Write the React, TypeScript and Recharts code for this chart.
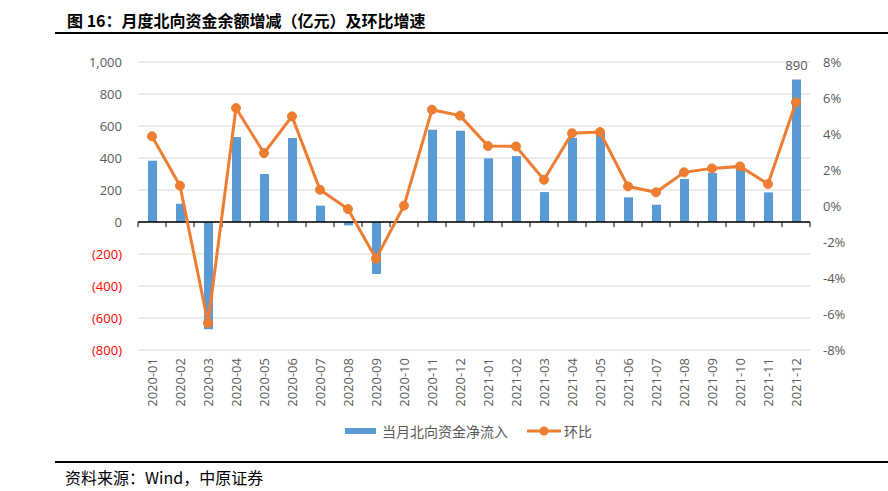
import React from 'react';
import { ComposedChart, Bar, Line, XAxis, YAxis, CartesianGrid, ReferenceLine, LabelList } from 'recharts';

const months = [
  '2020-01', '2020-02', '2020-03', '2020-04', '2020-05', '2020-06',
  '2020-07', '2020-08', '2020-09', '2020-10', '2020-11', '2020-12',
  '2021-01', '2021-02', '2021-03', '2021-04', '2021-05', '2021-06',
  '2021-07', '2021-08', '2021-09', '2021-10', '2021-11', '2021-12',
];
const inflow = [383, 114, -670, 531, 300, 525, 102, -21, -325, 0, 577, 570, 398, 412, 187, 525, 556, 154, 108, 269, 306, 335, 185, 890];
const momPct = [3.87, 1.13, -6.5, 5.44, 2.94, 4.98, 0.9, -0.17, -2.93, 0.02, 5.35, 5.02, 3.33, 3.31, 1.46, 4.04, 4.11, 1.09, 0.76, 1.87, 2.09, 2.2, 1.22, 5.76];
const leftTicks = [-800, -600, -400, -200, 0, 200, 400, 600, 800, 1000];
const rightTicks = [-8, -6, -4, -2, 0, 2, 4, 6, 8];
const barName = '当月北向资金净流入';
const lineName = '环比';
const title = '图 16：月度北向资金余额增减（亿元）及环比增速';
const source = '资料来源：Wind，中原证券';
const labelValue = 890;

const data = months.map((m, i) => ({ month: m, inflow: inflow[i], mom: momPct[i] }));

const BLUE = '#5B9BD5';
const ORANGE = '#ED7D31';
const GRAY = '#595959';
const FONT = '"Open Sans", "Noto Sans", sans-serif';
const CJK = '"Noto Sans CJK SC", "Noto Sans", sans-serif';

const LeftTick = (props: any) => {
  const { x, y, payload } = props;
  const v = payload.value as number;
  const neg = v < 0;
  const label = neg ? `(${Math.abs(v)})` : v.toLocaleString('en-US');
  return (
    <text x={x} y={y} dy="0.35em" textAnchor="end" fill={neg ? '#FF0000' : GRAY} fontSize={13} fontFamily={FONT}>
      {label}
    </text>
  );
};

const RightTick = (props: any) => {
  const { x, y, payload } = props;
  return (
    <text x={x} y={y} dy="0.35em" textAnchor="start" fill={GRAY} fontSize={13} fontFamily={FONT}>
      {`${payload.value}%`}
    </text>
  );
};

const XTick = (props: any) => {
  const { x, y, payload } = props;
  return (
    <g transform={`translate(${x},${y})`}>
      <text transform="rotate(-90)" x={0} y={0} dy="0.35em" textAnchor="end" fill={GRAY} fontSize={13} fontFamily={FONT}>
        {payload.value}
      </text>
    </g>
  );
};

const ZeroAxis = (props: any) => {
  const { x1, y1, x2, y2 } = props;
  const n = months.length;
  const step = (x2 - x1) / n;
  const ticks = [];
  for (let i = 0; i <= n; i++) {
    const xx = x1 + i * step;
    ticks.push(<line key={i} x1={xx} x2={xx} y1={y1} y2={y1 + 5} stroke="#000" strokeWidth={1} />);
  }
  return (
    <g>
      <line x1={x1} y1={y1} x2={x2} y2={y2} stroke="#000" strokeWidth={1.3} />
      {ticks}
    </g>
  );
};

const renderTopLabel = (props: any) => {
  const { x, y, width, value } = props;
  if (value !== labelValue) return null;
  return (
    <text x={x + width / 2} y={y - 10} textAnchor="middle" fill={GRAY} fontSize={13} fontFamily={FONT}>
      {value}
    </text>
  );
};

export default function App() {
  return (
    <div style={{ position: 'fixed', left: 0, top: 0, width: 888, height: 491, background: '#fff', overflow: 'hidden' }}>
      <div style={{ position: 'absolute', left: 67, top: 8, fontFamily: CJK, fontWeight: 700, fontSize: 16, color: '#000', whiteSpace: 'nowrap', lineHeight: '24px' }}>
        {title}
      </div>
      <div style={{ position: 'absolute', left: 55, top: 32, width: 833, height: 2, background: '#000' }} />
      <div style={{ position: 'absolute', left: 0, top: 0 }}>
        <ComposedChart width={888} height={491} data={data} margin={{ top: 62, right: 18, left: 78, bottom: 81 }}>
          <CartesianGrid yAxisId="left" vertical={false} stroke="#D9D9D9" strokeWidth={1} />
          <XAxis dataKey="month" axisLine={false} tickLine={false} interval={0} height={60} tick={<XTick />} />
          <YAxis yAxisId="left" domain={[-800, 1000]} ticks={leftTicks} axisLine={false} tickLine={false} width={60} tickMargin={10} tick={<LeftTick />} />
          <YAxis yAxisId="right" orientation="right" domain={[-8, 8]} ticks={rightTicks} axisLine={false} tickLine={false} width={60} tickMargin={7} tick={<RightTick />} />
          <Bar yAxisId="left" dataKey="inflow" name={barName} fill={BLUE} barSize={9} isAnimationActive={false}>
            <LabelList dataKey="inflow" content={renderTopLabel} />
          </Bar>
          <ReferenceLine yAxisId="left" y={0} shape={<ZeroAxis />} />
          <Line yAxisId="right" dataKey="mom" name={lineName} stroke={ORANGE} strokeWidth={3} dot={{ r: 4.5, fill: ORANGE, stroke: ORANGE, strokeWidth: 1 }} activeDot={false} isAnimationActive={false} />
        </ComposedChart>
      </div>
      <div style={{ position: 'absolute', left: 345, top: 420, display: 'flex', alignItems: 'center', fontFamily: CJK, fontSize: 14, color: GRAY, whiteSpace: 'nowrap', height: 22 }}>
        <svg width={32} height={8} style={{ marginRight: 5 }}>
          <rect x={0} y={1} width={31} height={6} fill={BLUE} />
        </svg>
        <span>{barName}</span>
        <svg width={34} height={12} style={{ marginLeft: 19, marginRight: 3 }}>
          <line x1={0} y1={6} x2={34} y2={6} stroke={ORANGE} strokeWidth={3} />
          <circle cx={17} cy={6} r={4.5} fill={ORANGE} />
        </svg>
        <span>{lineName}</span>
      </div>
      <div style={{ position: 'absolute', left: 55, top: 461, width: 833, height: 2, background: '#000' }} />
      <div style={{ position: 'absolute', left: 65, top: 465, fontFamily: CJK, fontSize: 16, color: '#000', whiteSpace: 'nowrap', lineHeight: '24px' }}>
        {source}
      </div>
    </div>
  );
}
